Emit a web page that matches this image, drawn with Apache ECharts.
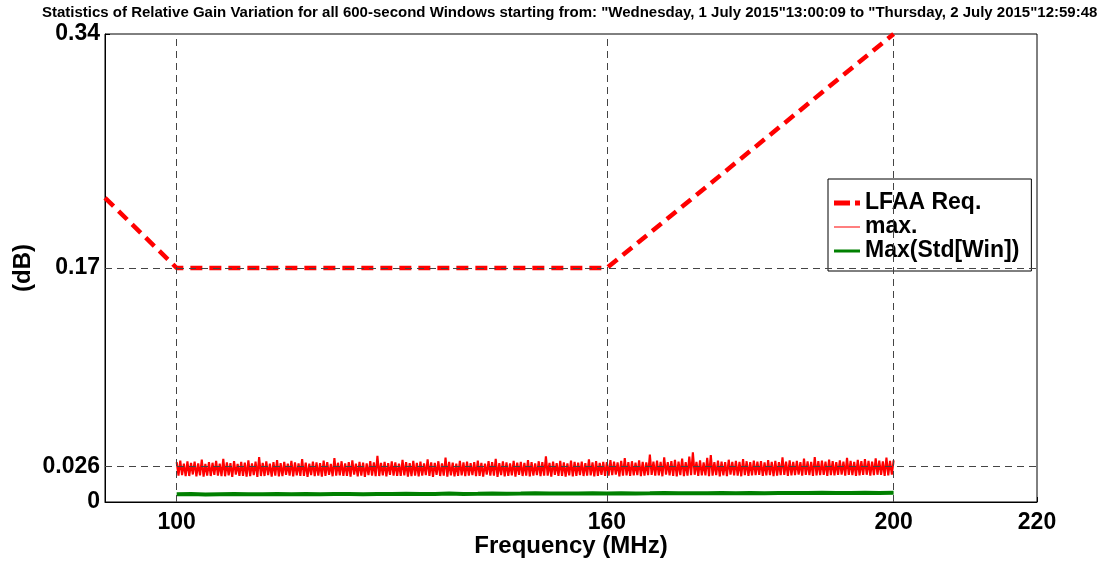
<!DOCTYPE html>
<html><head><meta charset="utf-8">
<script src="https://cdn.jsdelivr.net/npm/echarts@6/dist/echarts.min.js"></script>
<style>html,body{margin:0;padding:0;background:#fff}#c{width:1107px;height:561px}</style>
</head><body><div id="c"></div>
<script>
const titleText = 'Statistics of Relative Gain Variation for all 600-second Windows starting from: "Wednesday, 1 July 2015"13:00:09 to "Thursday, 2 July 2015"12:59:48';
const xTicks = [100, 160, 200, 220];
const yTicks = [0, 0.026, 0.17, 0.34];
const reqFreq = [90, 100, 160, 200];
const reqVal = [0.221, 0.17, 0.17, 0.34];
const maxStart = 100, maxStep = 0.25;
const maxVal = [
0.0289,0.0192,0.0301,0.0195,0.0278,0.0188,0.0296,0.0189,0.0284,0.0200,0.0293,0.0186,0.0281,0.0193,0.0308,0.0184,0.0276,0.0191,0.0290,0.0189,
0.0285,0.0197,0.0299,0.0191,0.0279,0.0188,0.0314,0.0187,0.0288,0.0194,0.0282,0.0183,0.0297,0.0199,0.0277,0.0190,0.0291,0.0190,0.0286,0.0185,
0.0302,0.0188,0.0280,0.0196,0.0293,0.0182,0.0327,0.0189,0.0284,0.0189,0.0295,0.0195,0.0279,0.0184,0.0289,0.0191,0.0305,0.0187,0.0283,0.0188,
0.0292,0.0198,0.0278,0.0191,0.0298,0.0186,0.0287,0.0193,0.0281,0.0190,0.0311,0.0189,0.0286,0.0183,0.0279,0.0196,0.0294,0.0188,0.0288,0.0192,
0.0283,0.0185,0.0300,0.0189,0.0290,0.0197,0.0276,0.0187,0.0319,0.0192,0.0285,0.0194,0.0296,0.0190,0.0281,0.0190,0.0289,0.0184,0.0303,0.0199,
0.0279,0.0187,0.0292,0.0191,0.0286,0.0183,0.0280,0.0195,0.0297,0.0191,0.0288,0.0188,0.0336,0.0189,0.0284,0.0193,0.0291,0.0186,0.0282,0.0198,
0.0295,0.0192,0.0287,0.0190,0.0279,0.0190,0.0306,0.0194,0.0290,0.0185,0.0283,0.0188,0.0299,0.0192,0.0285,0.0187,0.0293,0.0191,0.0281,0.0196,
0.0309,0.0189,0.0288,0.0183,0.0284,0.0197,0.0296,0.0189,0.0280,0.0191,0.0322,0.0184,0.0291,0.0194,0.0286,0.0186,0.0278,0.0190,0.0298,0.0193,
0.0287,0.0188,0.0294,0.0192,0.0283,0.0195,0.0290,0.0188,0.0301,0.0190,0.0285,0.0185,0.0279,0.0199,0.0297,0.0191,0.0289,0.0192,0.0313,0.0183,
0.0282,0.0196,0.0295,0.0187,0.0288,0.0190,0.0280,0.0193,0.0299,0.0184,0.0286,0.0198,0.0292,0.0189,0.0284,0.0191,0.0304,0.0186,0.0290,0.0192,
0.0281,0.0195,0.0296,0.0188,0.0289,0.0191,0.0331,0.0192,0.0285,0.0185,0.0293,0.0197,0.0282,0.0190,0.0298,0.0190,0.0287,0.0184,0.0280,0.0194,
0.0300,0.0187,0.0291,0.0189,0.0286,0.0196,0.0294,0.0189,0.0283,0.0192,0.0310,0.0193,0.0288,0.0186,0.0297,0.0190,0.0284,0.0198,0.0292,0.0189,
0.0289,0.0192,0.0305,0.0195,0.0293,0.0199,0.0287,0.0187,0.0299,0.0191,0.0318,0.0194,0.0290,0.0189,0.0296,0.0193,0.0286,0.0196,0.0302,0.0188,
0.0292,0.0191,0.0288,0.0195,0.0344,0.0197,0.0294,0.0192,0.0300,0.0193,0.0291,0.0187,0.0325,0.0199,0.0289,0.0194,0.0297,0.0190,0.0306,0.0186,
0.0293,0.0195,0.0316,0.0188,0.0290,0.0192,0.0330,0.0195,0.0360,0.0198,0.0292,0.0189,0.0303,0.0193,0.0288,0.0194,0.0321,0.0187,0.0341,0.0191,
0.0290,0.0196,0.0300,0.0186,0.0294,0.0193,0.0289,0.0188,0.0307,0.0199,0.0292,0.0194,0.0298,0.0192,0.0291,0.0187,0.0312,0.0195,0.0296,0.0189,
0.0289,0.0193,0.0301,0.0196,0.0293,0.0198,0.0297,0.0190,0.0288,0.0194,0.0305,0.0196,0.0292,0.0188,0.0299,0.0192,0.0290,0.0195,0.0324,0.0197,
0.0294,0.0189,0.0302,0.0194,0.0291,0.0196,0.0298,0.0199,0.0289,0.0191,0.0315,0.0197,0.0295,0.0195,0.0292,0.0189,0.0327,0.0193,0.0296,0.0196,
0.0300,0.0197,0.0293,0.0190,0.0308,0.0195,0.0297,0.0194,0.0290,0.0198,0.0303,0.0199,0.0294,0.0191,0.0320,0.0197,0.0299,0.0196,0.0292,0.0190,
0.0306,0.0193,0.0296,0.0197,0.0312,0.0198,0.0299,0.0191,0.0293,0.0195,0.0317,0.0198,0.0301,0.0197,0.0295,0.0190,0.0323,0.0194,0.0298,0.0199,
0.0302
];
// Max(Std[Win]) series: frequency 100..200 MHz, step 2 MHz
const stdStart = 100, stdStep = 2;
const stdVal = [
0.0056,0.0058,0.0055,0.0057,0.0058,0.0056,0.0057,0.0059,0.0056,0.0058,
0.0057,0.0059,0.0058,0.0057,0.0059,0.0058,0.0060,0.0058,0.0059,0.0061,
0.0059,0.0060,0.0062,0.0060,0.0061,0.0063,0.0061,0.0062,0.0061,0.0063,
0.0062,0.0064,0.0062,0.0063,0.0065,0.0063,0.0064,0.0063,0.0065,0.0064,
0.0066,0.0064,0.0065,0.0066,0.0065,0.0067,0.0065,0.0066,0.0067,0.0066,
0.0067
];

const reqData = reqFreq.map((f, i) => [f, reqVal[i]]);
const maxData = maxVal.map((v, i) => [maxStart + i * maxStep, v]);
const stdData = stdVal.map((v, i) => [stdStart + i * stdStep, v]);

const F = 'Liberation Sans, Arial, Helvetica, sans-serif';
const chart = echarts.init(document.getElementById('c'), null, {renderer: 'canvas'});
const gridLine = {color: '#444', type: [7, 5], width: 1};
const legText = {fontFamily: F, fontSize: 23, fontWeight: 'bold', color: '#000'};
chart.setOption({
  animation: false,
  backgroundColor: '#fff',
  title: {
    text: titleText, left: 37, top: 0,
    textStyle: {fontFamily: F, fontSize: 15, fontWeight: 'bold', color: '#000'}
  },
  grid: {left: 105, right: 70, top: 34, bottom: 59, outerBoundsMode: 'none', containLabel: false,
    show: true, borderColor: '#000', borderWidth: 1, backgroundColor: 'transparent'},
  legend: {
    data: [
      {name: 'LFAA Req.', icon: 'path://M0,0H16V5H0Z M21,0H26V5H21Z'},
      {name: 'max.', icon: 'path://M0,2H26V3H0Z M0,0H0.01V0.01H0Z M26,5H25.99V4.99H26Z'},
      {name: 'Max(Std[Win])', icon: 'path://M0,1H26V4H0Z M0,0H0.01V0.01H0Z M26,5H25.99V4.99H26Z'}
    ],
    orient: 'vertical', left: 828, top: 179,
    backgroundColor: '#fff', borderColor: '#000', borderWidth: 1,
    padding: [12, 12, 8, 6], itemGap: 0, itemWidth: 26, itemHeight: 5,
    textStyle: Object.assign({}, legText, {lineHeight: 24})
  },
  xAxis: {
    type: 'value', min: 90, max: 220,
    name: 'Frequency (MHz)', nameLocation: 'middle', nameGap: 32, nameMoveOverlap: false,
    nameTextStyle: {fontFamily: F, fontSize: 24, fontWeight: 'bold', color: '#000'},
    axisLine: {show: true, onZero: false, lineStyle: {color: '#000', width: 1}},
    axisTick: {show: true, inside: true, length: 5, customValues: xTicks, lineStyle: {color: '#000'}},
    axisLabel: {customValues: xTicks, fontFamily: F, fontSize: 23, fontWeight: 'bold', color: '#000', margin: 9},
    splitLine: {show: false}
  },
  yAxis: {
    type: 'value', min: 0, max: 0.34,
    name: '(dB)', nameLocation: 'middle', nameGap: 70, nameMoveOverlap: false,
    nameTextStyle: {fontFamily: F, fontSize: 24, fontWeight: 'bold', color: '#000'},
    axisLine: {show: true, onZero: false, lineStyle: {color: '#000', width: 1}},
    axisTick: {show: true, inside: true, length: 5, customValues: yTicks, lineStyle: {color: '#000'}},
    axisLabel: {customValues: yTicks, fontFamily: F, fontSize: 23, fontWeight: 'bold', color: '#000', margin: 5,
      padding: [4, 0, 0, 0], formatter: v => String(v)},
    splitLine: {show: false}
  },
  series: [
    {
      name: 'grid', type: 'line', data: [], z: 1, silent: true,
      markLine: {
        silent: true, symbol: 'none', label: {show: false}, animation: false, precision: 6,
        lineStyle: gridLine,
        data: [{xAxis: 100}, {xAxis: 160}, {xAxis: 200}, {yAxis: 0.17}, {yAxis: 0.026}]
      }
    },
    {
      name: 'max.', type: 'line', data: maxData, z: 3, showSymbol: false, symbol: 'none',
      lineStyle: {color: '#ff0000', width: 2.1}, itemStyle: {color: '#ff0000'}
    },
    {
      name: 'Max(Std[Win])', type: 'line', data: stdData, z: 3, showSymbol: false, symbol: 'none',
      lineStyle: {color: '#008000', width: 4}, itemStyle: {color: '#008000'}
    },
    {
      name: 'LFAA Req.', type: 'line', data: reqData, z: 4, showSymbol: false, symbol: 'none',
      lineStyle: {color: '#ff0000', width: 4.5, type: [12, 7]}, itemStyle: {color: '#ff0000'}
    }
  ]
});
</script>
</body></html>
